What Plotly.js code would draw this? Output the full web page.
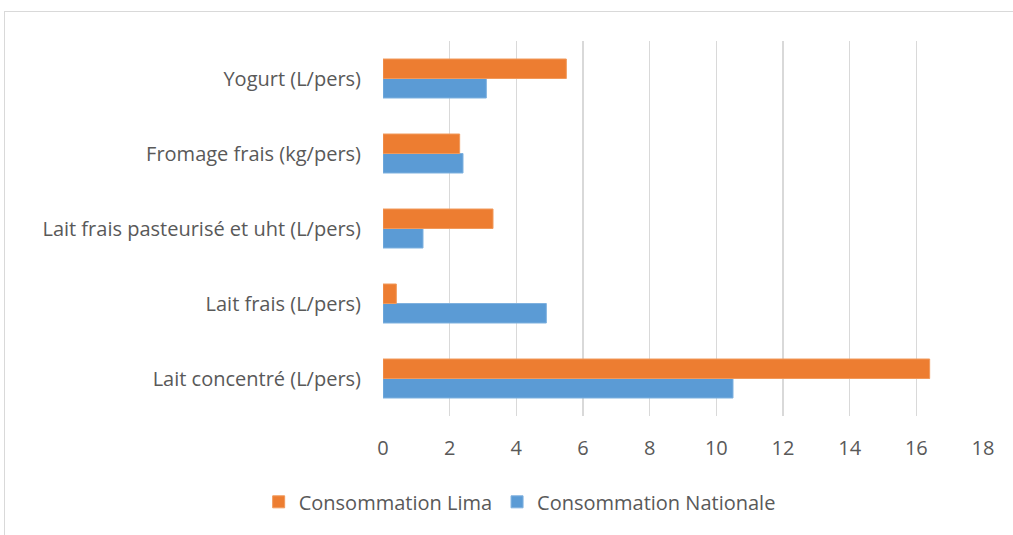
<!DOCTYPE html>
<html>
<head>
<meta charset="utf-8">
<script src="https://cdn.plot.ly/plotly-3.0.1.min.js"></script>
<style>
html,body{margin:0;padding:0;background:#fff;}
#frame{position:absolute;left:4px;top:11px;width:1100px;height:600px;border-left:1.5px solid #d9d9d9;border-top:1.5px solid #d9d9d9;pointer-events:none;}
#chart{position:absolute;left:0;top:0;width:1013px;height:535px;}
</style>
</head>
<body>
<div id="chart"></div>
<div id="frame"></div>
<script>
var categories = ["Lait concentré (L/pers)", "Lait frais (L/pers)", "Lait frais pasteurisé et uht (L/pers)", "Fromage frais (kg/pers)", "Yogurt (L/pers)"];
var lima = [16.4, 0.4, 3.3, 2.3, 5.5];
var nationale = [10.5, 4.9, 1.2, 2.4, 3.1];
var xTicks = [0, 2, 4, 6, 8, 10, 12, 14, 16, 18];

var font = "'Open Sans', sans-serif";
var fs = 20;
var traces = [
  {type: 'bar', orientation: 'h', name: 'Consommation Nationale', y: categories, x: nationale,
   marker: {color: '#5B9BD5', line: {color: '#7fb1df', width: 1}}, hoverinfo: 'x'},
  {type: 'bar', orientation: 'h', name: 'Consommation Lima', y: categories, x: lima,
   marker: {color: '#ED7D31', line: {color: '#f19a5c', width: 1}}, hoverinfo: 'x'}
];
var layout = {
  width: 1013, height: 535,
  margin: {l: 383, r: 30, t: 41, b: 119},
  paper_bgcolor: 'rgba(0,0,0,0)', plot_bgcolor: '#fff',
  barmode: 'group', bargap: 0.48, bargroupgap: 0,
  font: {family: font, size: fs, color: '#595959'},
  xaxis: {range: [0, 18], tickvals: xTicks, ticktext: xTicks.map(String),
          showgrid: true, gridcolor: '#d9d9d9', gridwidth: 1.5, zeroline: false,
          showline: false, ticks: '', ticklabelstandoff: 18, fixedrange: true,
          tickfont: {size: fs, color: '#595959'}},
  yaxis: {type: 'category', categoryorder: 'array', categoryarray: categories,
          showgrid: false, zeroline: false, showline: false, ticks: '',
          ticklabelstandoff: 21, fixedrange: true, tickfont: {size: fs, color: '#595959'}},
  showlegend: true,
  legend: {orientation: 'h', traceorder: 'reversed', xref: 'container', yref: 'container',
           x: 0.513, xanchor: 'center', y: 0.062, yanchor: 'middle',
           font: {size: fs, color: '#595959'}, itemwidth: 30, itemclick: false},
};
Plotly.newPlot('chart', traces, layout, {displayModeBar: false, staticPlot: true});
</script>
</body>
</html>
